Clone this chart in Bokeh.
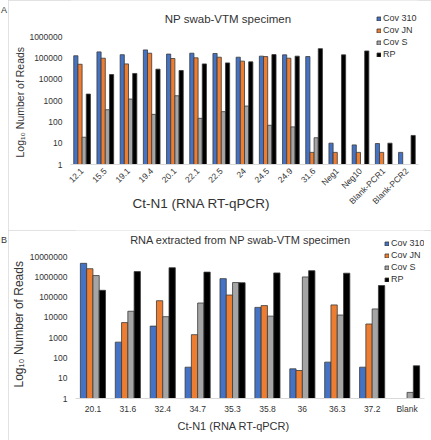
import math
from bokeh.plotting import figure
from bokeh.models import (FactorRange, Range1d, FixedTicker, NumeralTickFormatter,
                          Label, Legend, LegendItem, ColumnDataSource, Title, Div)
from bokeh.transform import dodge
from bokeh.layouts import column, row
from bokeh.embed import file_html
from bokeh.resources import INLINE

NaN = float("nan")

series_names = ["Cov 310", "Cov JN", "Cov S", "RP"]
series_colors = ["#4472C4", "#ED7D31", "#A5A5A5", "#000000"]

# Panel A: NP swab-VTM specimen
a_categories = ["12.1", "15.5", "19.1", "19.4", "20.1", "22.1", "22.5", "24", "24.5",
                "24.9", "31.6", "Neg1", "Neg10", "Blank-PCR1", "Blank-PCR2"]
a_cov310 = [125000, 190000, 140000, 235000, 150000, 165000, 160000, 107000, 120000,
            138000, 115000, 10, 8.3, 9.6, 3.7]
a_covjn = [50000, 96000, 52000, 165000, 93000, 100000, 107000, 70000, 115000,
           96000, 3.7, 3.7, 3.7, 3.7, NaN]
a_covs = [19, 370, 1170, 224, 1670, 146, 300, 550, 69, 58, 18, NaN, NaN, NaN, NaN]
a_rp = [2000, 16500, 18500, 29500, 25500, 52000, 58000, 65000, 142000, 120000,
        270000, 138000, 210000, 10, 23]
a_yticks = [1, 10, 100, 1000, 10000, 100000, 1000000]

# Panel B: RNA extracted from NP swab-VTM specimen
b_categories = ["20.1", "31.6", "32.4", "34.7", "35.3", "35.8", "36", "36.3", "37.2", "Blank"]
b_cov310 = [4600000, 600, 3700, 35, 810000, 31000, 29, 62, 35, NaN]
b_covjn = [2500000, 5500, 66000, 1400, 126000, 38000, 24, 41000, 4700, NaN]
b_covs = [1150000, 20000, 10800, 51000, 520000, 11500, 980000, 13000, 26000, 2]
b_rp = [215000, 1800000, 2800000, 1700000, 510000, 1550000, 2000000, 1500000, 370000, 41]
b_yticks = [1, 10, 100, 1000, 10000, 100000, 1000000, 10000000]

FONT = "Liberation Sans"
TXT = "#333333"


def make_letter(letter, height, top_pad):
    html = ('<div style="margin-top:%dpx;margin-left:1px;font-family:\'Liberation Sans\';'
            'font-size:9px;line-height:10px;color:%s">%s</div>' % (top_pad, TXT, letter))
    return Div(text=html, width=8, height=height, margin=0)


def make_panel(cats, series, yticks, y_end, width, height, bl, br, bb, rotate,
               legend_xy, legend_spacing, title, title_xy, title_size,
               xlabel_offset, xlabel_size, xlabel_standoff, ylabel_offset, ylabel_size):
    p = figure(title=None, x_range=FactorRange(factors=cats, range_padding=0),
               y_axis_type="log", y_range=Range1d(yticks[0], y_end),
               width=width, height=height, output_backend="svg",
               toolbar_location=None, min_border_left=bl, min_border_right=br,
               min_border_top=0, min_border_bottom=bb)
    p.outline_line_color = None
    p.xgrid.grid_line_color = None
    p.ygrid.grid_line_color = None
    p.styles = {"outline": "1px solid #D9D9D9", "outline-offset": "-1px"}
    data = {"cat": cats}
    for i, vals in enumerate(series):
        data["s%d" % i] = vals
    src = ColumnDataSource(data)
    offsets = [-0.27, -0.09, 0.09, 0.27]
    items = []
    for i, name in enumerate(series_names):
        r = p.vbar(x=dodge("cat", offsets[i], range=p.x_range), top="s%d" % i, bottom=1,
                   width=0.18, source=src, fill_color=series_colors[i],
                   line_color="#3a3a3a", line_width=0.8)
        items.append(LegendItem(label=name, renderers=[r]))

    p.yaxis.ticker = FixedTicker(ticks=yticks)
    p.yaxis.formatter = NumeralTickFormatter(format="0")
    p.yaxis.axis_line_color = None
    p.yaxis.major_tick_line_color = None
    p.yaxis.minor_tick_line_color = None
    p.yaxis.major_tick_out = 0
    p.yaxis.minor_tick_out = 0
    p.yaxis.major_label_standoff = 8
    p.yaxis.major_label_text_font = FONT
    p.yaxis.major_label_text_font_size = "8.5px"
    p.yaxis.major_label_text_color = TXT

    p.xaxis.axis_line_color = "#D9D9D9"
    p.xaxis.major_tick_line_color = None
    p.xaxis.minor_tick_line_color = None
    p.xaxis.major_tick_out = 0
    p.xaxis.major_label_text_font = FONT
    p.xaxis.major_label_text_font_size = "8.5px"
    p.xaxis.major_label_text_color = TXT
    p.xaxis.major_label_standoff = 5
    if rotate:
        p.xaxis.major_label_orientation = math.pi / 4

    legend = Legend(items=items, location=legend_xy, orientation="vertical",
                    label_text_font=FONT, label_text_font_size="9px",
                    label_text_color=TXT, glyph_width=5, glyph_height=5,
                    label_standoff=2, spacing=legend_spacing, padding=0, margin=0,
                    label_height=10, border_line_color=None,
                    background_fill_alpha=0)
    p.add_layout(legend)

    p.add_layout(Label(x=title_xy[0], y=title_xy[1], x_units="screen", y_units="screen",
                       text=title, text_font=FONT, text_font_size=title_size,
                       text_color=TXT, text_align="center", text_baseline="middle"))

    xt = Title(text="Ct-N1 (RNA RT-qPCR)", align="left", offset=xlabel_offset,
               text_font=FONT, text_font_size=xlabel_size, text_font_style="normal",
               text_color=TXT, standoff=2)
    if xlabel_standoff is not None:
        try:
            xt.vertical_align = "top"
            xt.standoff = xlabel_standoff
        except Exception:
            xt.standoff = 2
    p.add_layout(xt, "below")
    yt = Title(text="Log\u2081\u2080 Number of Reads", align="left", offset=ylabel_offset,
               text_font=FONT, text_font_size=ylabel_size, text_font_style="normal",
               text_color=TXT, standoff=2)
    p.add_layout(yt, "left")
    return p


# Panel A: frame 70..418 x 0..164 px, 1 at baseline, 1e6 at 36 px from top
pA = make_panel(a_categories, [a_cov310, a_covjn, a_covs, a_rp], a_yticks,
                10 ** (6 * 164 / 128), 423, 230, 62, 13, 66, True,
                (306, 105), 2, "NP swab-VTM specimen", (157.5, 146), "11.5px",
                62, "13.5px", -34, 7, "10.5px")
# Panel B: frame 69..424 x 230..398 px, 1e7 at 256
pB = make_panel(b_categories, [b_cov310, b_covjn, b_covs, b_rp], b_yticks,
                10 ** (7 * 168 / 142), 423, 210, 61, 7, 42, False,
                (309, 114), 2, "RNA extracted from NP swab-VTM specimen", (165, 159), "11px",
                102, "11px", None, 11, "12px")

lA = make_letter("A", 230, 5)
lB = make_letter("B", 210, 5)

layout = column(row(lA, pA), row(lB, pB))
open("out.html", "w").write(file_html(layout, INLINE))
